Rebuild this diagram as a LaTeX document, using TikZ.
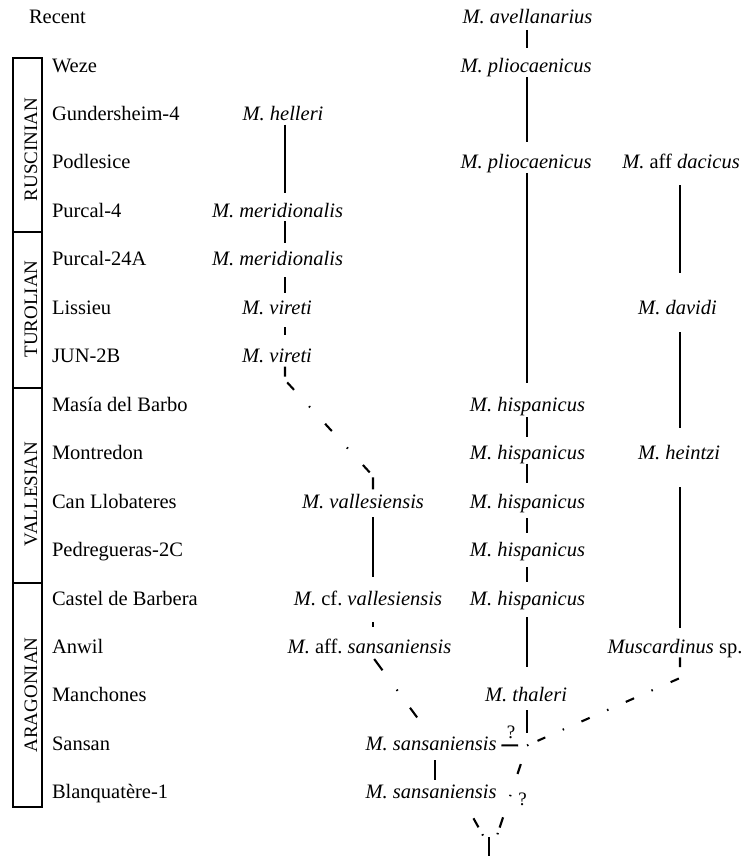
\documentclass[tikz,border=0pt]{standalone}
\usepackage{fontspec}
\setmainfont{Liberation Serif}
\usetikzlibrary{calc}
\frenchspacing
\begin{document}
\begin{tikzpicture}[x=1pt,y=-1pt,
  every node/.style={inner sep=0pt, outer sep=0pt, anchor=base,
    font=\fontsize{20.5}{24}\selectfont, text height=14pt, text depth=4pt},
  site/.style={anchor=base west},
  stagelbl/.style={rotate=90, anchor=base, font=\fontsize{19}{22}\selectfont},
  qmark/.style={font=\fontsize{19}{22}\selectfont},
  stagebox/.style={line width=1.1pt},
  lin/.style={line width=2.1pt}
]
\useasboundingbox (0,0) rectangle (746,859);

% ---- stage column ----
\draw[stagebox] (13,58) rectangle (42,232);
\draw[stagebox] (13,232) rectangle (42,388);
\draw[stagebox] (13,388) rectangle (42,583);
\draw[stagebox] (13,583) rectangle (42,807);
\node[stagelbl] (rus) at (37,149.5) {RUSCINIAN};
\node[stagelbl] (tur) at (37,309) {TUROLIAN};
\node[stagelbl] (val-st) at (37,494) {VALLESIAN};
\node[stagelbl] (ara) at (37,695) {ARAGONIAN};

% ---- localities ----
\node[site] (recent) at (29,23.6) {Recent};
\node[site] (weze) at (52,72) {Weze};
\node[site] (gund) at (52,120.5) {Gundersheim-4};
\node[site] (podl) at (52,168.9) {Podlesice};
\node[site] (pur4) at (52,217.4) {Purcal-4};
\node[site] (pur24) at (52,265.8) {Purcal-24A};
\node[site] (liss) at (52,314.3) {Lissieu};
\node[site] (jun) at (52,362.7) {JUN-2B};
\node[site] (masia) at (52,411.2) {Masía del Barbo};
\node[site] (montr) at (52,459.6) {Montredon};
\node[site] (canll) at (52,508.1) {Can Llobateres};
\node[site] (pedr) at (52,556.5) {Pedregueras-2C};
\node[site] (castel) at (52,605) {Castel de Barbera};
\node[site] (anwil) at (52,653.4) {Anwil};
\node[site] (manch) at (52,701.9) {Manchones};
\node[site] (sansan) at (52,750.3) {Sansan};
\node[site] (blanq) at (52,798.8) {Blanquatère-1};

% ---- taxa ----
\node (hel) at (283,120.5) {\textit{M. helleri}};
\node (mer1) at (277.5,217.4) {\textit{M. meridionalis}};
\node (mer2) at (277.5,265.8) {\textit{M. meridionalis}};
\node (vir1) at (277,314.3) {\textit{M. vireti}};
\node (vir2) at (277,362.7) {\textit{M. vireti}};
\node (vall) at (363,508.1) {\textit{M. vallesiensis}};
\node (cfval) at (368,605) {\textit{M.} cf. \textit{vallesiensis}};
\node (affsan) at (369.5,653.4) {\textit{M.} aff. \textit{sansaniensis}};
\node (san1) at (431,750.3) {\textit{M. sansaniensis}};
\node (san2) at (431,798.8) {\textit{M. sansaniensis}};

\node (ave) at (527.5,23.6) {\textit{M. avellanarius}};
\node (pli1) at (526,72) {\textit{M. pliocaenicus}};
\node (pli2) at (526,168.9) {\textit{M. pliocaenicus}};
\node (his1) at (527.5,411.2) {\textit{M. hispanicus}};
\node (his2) at (527.5,459.6) {\textit{M. hispanicus}};
\node (his3) at (527.5,508.1) {\textit{M. hispanicus}};
\node (his4) at (527.5,556.5) {\textit{M. hispanicus}};
\node (his5) at (527.5,605) {\textit{M. hispanicus}};
\node (tha) at (526,701.9) {\textit{M. thaleri}};

\node (dac) at (681,168.9) {\textit{M.} aff \textit{dacicus}};
\node (dav) at (677.5,314.3) {\textit{M. davidi}};
\node (hei) at (679,459.6) {\textit{M. heintzi}};
\node (mus) at (675,653.4) {\textit{Muscardinus} sp.};

\node[qmark] (q1) at (511,738) {?};
\node[qmark] (q2) at (522.5,805) {?};

% ---- lineage axes and junction points ----
\coordinate (axL) at (285,0);
\coordinate (axV) at (373,0);
\coordinate (axS) at (435,0);
\coordinate (axM) at (527,0);
\coordinate (axR) at (680,0);
\coordinate (J) at (527,745.5);
\coordinate (b1) at (285,380);
\coordinate (b2) at (373,476);
\coordinate (c2) at (680,678);
\coordinate (yl) at (483,835.5);
\coordinate (yr) at (497,835.5);
\coordinate (lb) at (470,812);
\coordinate (root) at (489,837);
\coordinate (rootend) at (489,856);

% ---- left lineage ----
\draw[lin, shorten >=10.4pt] (hel.south -| axL) -- (mer1.north -| axL);
\draw[lin, shorten >=8.8pt] (mer1.south -| axL) -- (mer2.north -| axL);
\draw[lin, shorten <=7.2pt, shorten >=7.3pt] (mer2.south -| axL) -- (vir1.north -| axL);
\draw[lin, shorten <=8.7pt, shorten >=13.7pt] (vir1.south -| axL) -- (vir2.north -| axL);
\draw[lin, dash pattern=on 10pt off 6.6pt on 10pt off 22.25pt on 1.5pt off 22.25pt
      on 10pt off 22.25pt on 1.5pt off 22.25pt on 10pt off 6.2pt on 12pt off 40pt]
  (vir2.south -| axL) -- (b1) -- (b2) -- (vall.north -| axV);
\draw[lin, shorten <=4.9pt, shorten >=14pt] (vall.south -| axV) -- (cfval.north -| axV);
\draw[lin, shorten <=13pt, shorten >=12.4pt] (cfval.south -| axV) -- (affsan.north -| axV);
\draw[lin, shorten <=2pt, dash pattern=on 14pt off 24pt on 1.5pt off 21pt on 12pt off 60pt]
  (affsan.south -| axV) -- (san1.north);
\draw[lin, shorten <=5.7pt, shorten >=4.8pt] (san1.south -| axS) -- (san2.north -| axS);

% ---- central lineage ----
\draw[lin, shorten <=2.4pt, shorten >=10pt] (ave.south -| axM) -- (pli1.north -| axM);
\draw[lin, shorten <=1pt, shorten >=12.9pt] (pli1.south -| axM) -- (pli2.north -| axM);
\draw[lin, shorten >=14.2pt] (pli2.south -| axM) -- (his1.north -| axM);
\draw[lin, shorten <=1.8pt, shorten >=8.6pt] (his1.south -| axM) -- (his2.north -| axM);
\draw[lin, shorten >=11.1pt] (his2.south -| axM) -- (his3.north -| axM);
\draw[lin, shorten <=5.9pt, shorten >=9.5pt] (his3.south -| axM) -- (his4.north -| axM);
\draw[lin, shorten <=6.5pt, shorten >=9pt] (his4.south -| axM) -- (his5.north -| axM);
\draw[lin, shorten <=8pt, shorten >=20.9pt] (his5.south -| axM) -- (tha.north -| axM);
\draw[lin, shorten <=4.1pt, shorten >=12.5pt] (tha.south -| axM) -- (J);
\draw[lin, shorten <=5pt, shorten >=9pt] (san1.east) -- (J);

% ---- right lineage ----
\draw[lin, shorten <=12.1pt, shorten >=27.3pt] (dac.south -| axR) -- (dav.north -| axR);
\draw[lin, shorten <=13.7pt, shorten >=17.6pt] (dav.south -| axR) -- (hei.north -| axR);
\draw[lin, shorten <=23.4pt, shorten >=11.4pt] (hei.south -| axR) -- (mus.north -| axR);
\draw[lin, dash pattern=on 1.5pt off 10pt on 8.5pt off 19pt on 1.5pt off 19pt on 9pt off 19pt
      on 1.5pt off 19pt on 9pt off 19pt on 1.5pt off 19.5pt on 9pt off 12pt on 10pt off 40pt]
  (J) -- (c2) -- (mus.south -| axR);

% ---- basal split ----
\draw[lin, shorten <=19.6pt, dash pattern=on 10.4pt off 22pt on 1.5pt off 22.2pt
      on 10.8pt off 5.6pt on 1.5pt off 20pt] (J) -- (yr);
\draw[lin, dash pattern=on 1.5pt off 7.9pt on 10.3pt off 20pt] (yl) -- (lb);
\draw[lin] (root) -- (rootend);
\end{tikzpicture}
\end{document}
